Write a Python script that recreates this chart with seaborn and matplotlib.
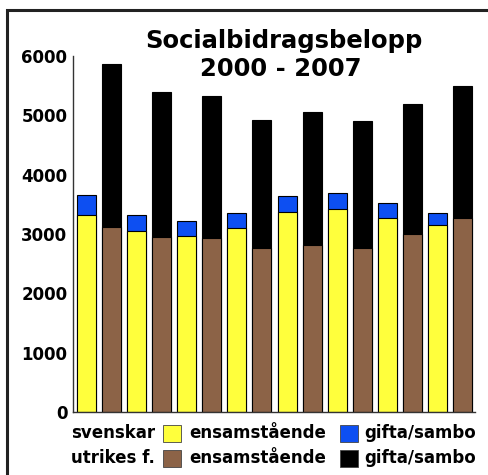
import numpy as np
import pandas as pd
import matplotlib
matplotlib.use("Agg")
from matplotlib import pyplot as plt
from matplotlib.patches import Rectangle
import seaborn as sns

# data
years = ["2000", "2001", "2002", "2003", "2004", "2005", "2006", "2007"]
sv_ensam = [3325, 3045, 2966, 3107, 3371, 3421, 3275, 3146]
sv_gifta = [325, 275, 260, 250, 275, 275, 240, 215]
ut_ensam = [3113, 2944, 2938, 2758, 2815, 2770, 3000, 3270]
ut_gifta = [2760, 2450, 2380, 2165, 2235, 2135, 2190, 2230]

legend_rows = ["svenskar", "utrikes f."]
part_labels = ["ensamstående", "gifta/sambo"]

c_sv_ensam = "#ffff3c"
c_sv_gifta = "#0d4ff2"
c_ut_ensam = "#8c6347"
c_ut_gifta = "#000000"

rows = []
for i, y in enumerate(years):
    rows.append({"slot": f"{y}s", "group": "svenskar", "ensam": sv_ensam[i], "gifta": sv_gifta[i]})
    rows.append({"slot": f"{y}u", "group": "utrikes f.", "ensam": ut_ensam[i], "gifta": ut_gifta[i]})
df = pd.DataFrame(rows)
df["total"] = df["ensam"] + df["gifta"]
order = list(df["slot"])

sns.set_style("white")
plt.rcParams["font.family"] = ["DejaVu Sans"]
plt.rcParams["font.weight"] = "bold"
plt.rcParams["text.color"] = "black"
plt.rcParams["ytick.labelcolor"] = "black"

fig = plt.figure(figsize=(4.89, 4.75), dpi=100)
ax = fig.add_axes([73 / 489, 1 - 412 / 475, (475 - 73) / 489, (412 - 56) / 475])

# totals first (top segment), then the lower segment on top of it
sns.barplot(data=df, x="slot", y="total", hue="group", order=order,
            palette={"svenskar": c_sv_gifta, "utrikes f.": c_ut_gifta},
            dodge=False, width=0.76, edgecolor="black", linewidth=0.8,
            saturation=1, legend=False, ax=ax)
sns.barplot(data=df, x="slot", y="ensam", hue="group", order=order,
            palette={"svenskar": c_sv_ensam, "utrikes f.": c_ut_ensam},
            dodge=False, width=0.76, edgecolor="black", linewidth=0.8,
            saturation=1, legend=False, ax=ax)

ax.set_xlim(-0.54, 15.5)
ax.set_ylim(0, 6000)
ax.set_yticks([0, 1000, 2000, 3000, 4000, 5000, 6000])
ax.set_xticks(np.arange(0.5, 16, 1.0))
ax.set_xticklabels([])
ax.set_xlabel("")
ax.set_ylabel("")
ax.tick_params(axis="x", direction="in", length=4, width=0.8, color="#777777")
ax.tick_params(axis="y", direction="in", length=5, width=1, color="#333333",
               labelsize=12, pad=4, labelcolor="black")
for lab in ax.get_yticklabels():
    lab.set_fontweight("bold")
sns.despine(ax=ax)
for s in ["left", "bottom"]:
    ax.spines[s].set_color("#333333")
    ax.spines[s].set_linewidth(1)

# title inside the plot area
fig.text(284 / 489, 1 - 41 / 475, "Socialbidragsbelopp", ha="center", va="center",
         fontsize=17.5, fontweight="bold")
fig.text(281 / 489, 1 - 69 / 475, "2000 - 2007", ha="center", va="center",
         fontsize=17.5, fontweight="bold")

# hand made legend below the axis
sq = [[c_sv_ensam, c_sv_gifta], [c_ut_ensam, c_ut_gifta]]
for r, name in enumerate(legend_rows):
    yc = 1 - (433 + 25 * r) / 475
    fig.text(155 / 489, yc, name, ha="right", va="center", fontsize=12, fontweight="bold")
    for k, lab in enumerate(part_labels):
        x0 = [163, 340][k]
        fig.patches.append(Rectangle((x0 / 489, yc - 8.5 / 475), 18 / 489, 17 / 475,
                                     transform=fig.transFigure, facecolor=sq[r][k],
                                     edgecolor="#444444", linewidth=0.6))
        fig.text([189, 364][k] / 489, yc, lab, ha="left", va="center",
                 fontsize=12, fontweight="bold")

# frame round the figure (only left and top are visible)
fig.patches.append(Rectangle((7 / 489, -0.1), 1.2, 1 - 10 / 475 + 0.1,
                             transform=fig.transFigure, fill=False,
                             edgecolor="#222222", linewidth=2.2))

fig.savefig("out.png", dpi=100)
